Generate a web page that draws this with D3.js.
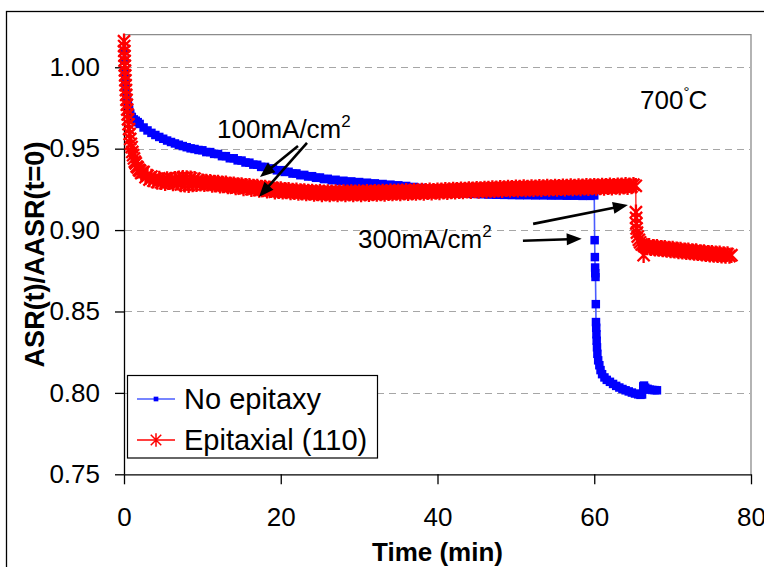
<!DOCTYPE html>
<html>
<head>
<meta charset="utf-8">
<script src="https://cdn.jsdelivr.net/npm/d3@7"></script>
<style>
  html, body { margin: 0; padding: 0; background: #fff; }
  svg { display: block; font-family: "Liberation Sans", Arial, sans-serif; }
</style>
</head>
<body>
<svg id="chart" width="764" height="567"></svg>
<script>
// Normalised area-specific resistance vs. time at 700 °C, [time (min), ASR(t)/ASR(t=0)]
const noEpitaxy = [
  [0,1.010],[0.05,1.004],[0.1,0.998],[0.15,0.993],[0.2,0.989],[0.3,0.984],[0.4,0.980],[0.5,0.977],
  [0.65,0.974],[0.8,0.9715],[1.0,0.9695],[1.25,0.9680],[1.5,0.9672],[1.75,0.9663],[2.0,0.9652],
  [2.5,0.9630],[3.0,0.9612],[3.5,0.9597],[4.0,0.9584],[4.5,0.9572],[5,0.9561],[5.5,0.9550],
  [6,0.9541],[6.5,0.9532],[7,0.9524],[7.5,0.9516],[8,0.9509],[8.5,0.9502],[9,0.9498],[9.5,0.9492],
  [10,0.9490],[10.5,0.9479],[11,0.9479],[11.5,0.9468],[12,0.9467],[12.5,0.9454],[13,0.9454],
  [13.5,0.9441],[14,0.9441],[14.5,0.9428],[15,0.9427],[15.5,0.9415],[16,0.9414],[16.5,0.9402],
  [17,0.9401],[17.5,0.9388],[18,0.9388],[18.5,0.9377],[19,0.9378],[19.5,0.9367],[20,0.9368],
  [20.5,0.9357],[21,0.9358],[21.5,0.9347],[22,0.9348],[22.5,0.9337],[23,0.9339],[23.5,0.9329],
  [24,0.9331],[24.5,0.9321],[25,0.9323],[25.5,0.9313],[26,0.9315],[26.5,0.9306],[27,0.9309],
  [27.5,0.9300],[28,0.9303],[28.5,0.9295],[29,0.9299],[29.5,0.9291],[30,0.9295],[30.5,0.9287],
  [31,0.9291],[31.5,0.9283],[32,0.9287],[32.5,0.9279],[33,0.9283],[33.5,0.9275],[34,0.9279],
  [34.5,0.9271],[35,0.9275],[35.5,0.9267],[36,0.9271],[36.5,0.9262],[37,0.9265],[37.5,0.9256],
  [38,0.9259],[38.5,0.9250],[39,0.9253],[39.5,0.9244],[40,0.9247],[40.5,0.9238],[41,0.9241],
  [41.5,0.9233],[42,0.9236],[42.5,0.9229],[43,0.9232],[43.5,0.9225],[44,0.9228],[44.5,0.9222],
  [45,0.9226],[45.5,0.9220],[46,0.9224],[46.5,0.9218],[47,0.9222],[47.5,0.9217],[48,0.9221],
  [48.5,0.9216],[49,0.9220],[49.5,0.9215],[50,0.9219],[50.5,0.9214],[51,0.9218],[51.5,0.9214],
  [52,0.9218],[52.5,0.9213],[53,0.9217],[53.5,0.9213],[54,0.9217],[54.5,0.9212],[55,0.9216],
  [55.5,0.9212],[56,0.9216],[56.5,0.9211],[57,0.9215],[57.5,0.9211],[58,0.9215],[58.5,0.9210],
  [59,0.9214],[59.5,0.9210],[60,0.9213],
  // current step to 300 mA/cm²
  [60.05,0.8938],[60.08,0.8834],[60.11,0.8770],[60.13,0.8735],[60.16,0.8712],[60.2,0.8545],
  [60.22,0.8435],[60.25,0.8400],[60.28,0.8360],[60.31,0.8320],[60.35,0.8280],[60.4,0.8240],
  [60.5,0.8200],[60.65,0.8170],[60.8,0.8140],[61.0,0.8115],[61.3,0.8095],[61.6,0.8080],
  [62.0,0.8068],[62.4,0.8055],[62.8,0.8043],[63.2,0.8033],[63.6,0.8024],[64.0,0.8016],
  [64.4,0.8009],[64.8,0.8002],[65.2,0.7996],[65.6,0.7991],[65.9,0.7988],[66.1,0.7990],
  [66.25,0.8040],[66.35,0.8045],[66.5,0.8032],[66.8,0.8025],[67.1,0.8020],[67.4,0.8018],
  [67.7,0.8017],[68.0,0.8016]
];

const epitaxial110 = [
  [0,1.016],[0.02,1.013],[0.04,1.010],[0.06,1.007],[0.08,1.004],[0.1,1.001],[0.12,0.998],
  [0.15,0.995],[0.18,0.992],[0.21,0.989],[0.25,0.986],[0.28,0.983],[0.32,0.980],[0.36,0.977],
  [0.41,0.974],[0.46,0.971],[0.52,0.968],[0.58,0.965],[0.65,0.962],[0.72,0.959],[0.8,0.956],
  [0.88,0.953],[0.97,0.951],[1.06,0.948],[1.16,0.946],[1.27,0.944],[1.38,0.942],[1.5,0.941],
  [1.62,0.939],[1.75,0.9385],[1.9,0.937],[2.05,0.9365],[2.2,0.9350],[2.35,0.9355],
  [2.5,0.9357],[2.75,0.9325],[3,0.9334],[3.25,0.9310],[3.5,0.9329],[3.75,0.9303],[4,0.9316],
  [4.25,0.9295],[4.5,0.9317],[4.75,0.9293],[5,0.9308],[5.25,0.9288],[5.5,0.9314],[5.75,0.9294],
  [6,0.9310],[6.25,0.9286],[6.5,0.9315],[6.75,0.9290],[7,0.9318],[7.25,0.9280],[7.5,0.9322],
  [7.75,0.9278],[8,0.9320],[8.25,0.9276],[8.5,0.9318],[8.75,0.9280],[9,0.9316],[9.25,0.9282],
  [9.5,0.9306],[9.75,0.9285],[10,0.9300],[10.25,0.9282],[10.5,0.9298],[10.75,0.9284],
  [11,0.9297],[11.25,0.9277],[11.5,0.9292],[11.75,0.9279],[12,0.9292],[12.25,0.9272],
  [12.5,0.9287],[12.75,0.9274],[13,0.9287],[13.25,0.9267],[13.5,0.9282],[13.75,0.9269],
  [14,0.9282],[14.25,0.9261],[14.5,0.9277],[14.75,0.9264],[15,0.9277],[15.25,0.9256],
  [15.5,0.9272],[15.75,0.9259],[16,0.9272],[16.25,0.9251],[16.5,0.9267],[16.75,0.9254],
  [17,0.9267],[17.25,0.9246],[17.5,0.9262],[17.75,0.9249],[18,0.9262],[18.25,0.9241],
  [18.5,0.9257],[18.75,0.9244],[19,0.9257],[19.25,0.9236],[19.5,0.9252],[19.75,0.9239],
  [20,0.9253],[20.25,0.9235],[20.5,0.9247],[20.75,0.9237],[21,0.9247],[21.25,0.9231],
  [21.5,0.9243],[21.75,0.9233],[22,0.9244],[22.25,0.9228],[22.5,0.9240],[22.75,0.9230],
  [23,0.9240],[23.25,0.9224],[23.5,0.9237],[23.75,0.9227],[24,0.9237],[24.25,0.9222],
  [24.5,0.9234],[24.75,0.9225],[25,0.9235],[25.25,0.9219],[25.5,0.9232],[25.75,0.9223],
  [26,0.9234],[26.25,0.9219],[26.5,0.9232],[26.75,0.9223],[27,0.9234],[27.25,0.9219],
  [27.5,0.9232],[27.75,0.9223],[28,0.9234],[28.25,0.9219],[28.5,0.9232],[28.75,0.9223],
  [29,0.9234],[29.25,0.9219],[29.5,0.9232],[29.75,0.9223],[30,0.9234],[30.25,0.9219],
  [30.5,0.9232],[30.75,0.9223],[31,0.9235],[31.25,0.9220],[31.5,0.9233],[31.75,0.9224],
  [32,0.9236],[32.25,0.9221],[32.5,0.9234],[32.75,0.9225],[33,0.9237],[33.25,0.9222],
  [33.5,0.9235],[33.75,0.9226],[34,0.9238],[34.25,0.9224],[34.5,0.9237],[34.75,0.9228],
  [35,0.9239],[35.25,0.9225],[35.5,0.9238],[35.75,0.9229],[36,0.9241],[36.25,0.9226],
  [36.5,0.9239],[36.75,0.9230],[37,0.9242],[37.25,0.9227],[37.5,0.9240],[37.75,0.9231],
  [38,0.9243],[38.25,0.9228],[38.5,0.9241],[38.75,0.9233],[39,0.9244],[39.25,0.9229],
  [39.5,0.9242],[39.75,0.9234],[40,0.9245],[40.25,0.9231],[40.5,0.9244],[40.75,0.9235],
  [41,0.9247],[41.25,0.9233],[41.5,0.9246],[41.75,0.9237],[42,0.9249],[42.25,0.9235],
  [42.5,0.9248],[42.75,0.9239],[43,0.9251],[43.25,0.9237],[43.5,0.9250],[43.75,0.9241],
  [44,0.9252],[44.25,0.9238],[44.5,0.9251],[44.75,0.9243],[45,0.9254],[45.25,0.9240],
  [45.5,0.9253],[45.75,0.9245],[46,0.9256],[46.25,0.9242],[46.5,0.9255],[46.75,0.9246],
  [47,0.9258],[47.25,0.9244],[47.5,0.9257],[47.75,0.9248],[48,0.9260],[48.25,0.9245],
  [48.5,0.9258],[48.75,0.9250],[49,0.9261],[49.25,0.9247],[49.5,0.9260],[49.75,0.9251],
  [50,0.9263],[50.25,0.9248],[50.5,0.9261],[50.75,0.9252],[51,0.9264],[51.25,0.9249],
  [51.5,0.9262],[51.75,0.9253],[52,0.9265],[52.25,0.9250],[52.5,0.9263],[52.75,0.9254],
  [53,0.9266],[53.25,0.9251],[53.5,0.9264],[53.75,0.9255],[54,0.9267],[54.25,0.9252],
  [54.5,0.9265],[54.75,0.9256],[55,0.9268],[55.25,0.9253],[55.5,0.9266],[55.75,0.9257],
  [56,0.9269],[56.25,0.9254],[56.5,0.9267],[56.75,0.9258],[57,0.9270],[57.25,0.9255],
  [57.5,0.9268],[57.75,0.9259],[58,0.9271],[58.25,0.9256],[58.5,0.9269],[58.75,0.9260],
  [59,0.9272],[59.25,0.9257],[59.5,0.9270],[59.75,0.9261],[60,0.9273],[60.25,0.9258],
  [60.5,0.9271],[60.75,0.9262],[61,0.9274],[61.25,0.9259],[61.5,0.9272],[61.75,0.9263],
  [62,0.9275],[62.25,0.9260],[62.5,0.9273],[62.75,0.9264],[63,0.9276],[63.25,0.9262],
  [63.5,0.9275],[63.75,0.9266],[64,0.9278],[64.25,0.9263],[64.5,0.9276],[64.75,0.9267],
  [65,0.9279],[65.3,0.9272],
  // current step to 300 mA/cm²
  [65.32,0.9110],[65.34,0.9075],[65.37,0.9040],[65.4,0.9010],[65.45,0.8985],[65.55,0.8960],
  [65.7,0.8940],[65.85,0.8925],[66.05,0.8912],[66.3,0.8846],[66.35,0.8903],[66.55,0.8898],
  [66.75,0.8893],[67,0.8903],[67.25,0.8888],[67.5,0.8897],[67.75,0.8885],[68,0.8897],
  [68.25,0.8883],[68.5,0.8892],[68.75,0.8880],[69,0.8892],[69.25,0.8878],[69.5,0.8887],
  [69.75,0.8875],[70,0.8887],[70.25,0.8873],[70.5,0.8882],[70.75,0.8869],[71,0.8881],
  [71.25,0.8867],[71.5,0.8876],[71.75,0.8864],[72,0.8876],[72.25,0.8862],[72.5,0.8871],
  [72.75,0.8859],[73,0.8871],[73.25,0.8857],[73.5,0.8866],[73.75,0.8854],[74,0.8866],
  [74.25,0.8852],[74.5,0.8861],[74.75,0.8849],[75,0.8861],[75.25,0.8847],[75.5,0.8857],
  [75.75,0.8845],[76,0.8857],[76.25,0.8843],[76.5,0.8853],[76.75,0.8841],[77,0.8853],
  [77.25,0.8840],[77.5,0.8846]
];

const xTicks = [0, 20, 40, 60, 80];
const yTicks = [0.75, 0.80, 0.85, 0.90, 0.95, 1.00];
const seriesNames = ["No epitaxy", "Epitaxial (110)"];

// annotation anchors in data units: [time, ratio]
const label100 = [11.87, 0.9566];
const label300 = [29.86, 0.8890];
const label700 = [65.84, 0.9744];
const arrows = [
  [[22.2, 0.9517], [17.35, 0.9326]],
  [[23.35, 0.9535], [17.22, 0.9203]],
  [[52.2, 0.9038], [64.3, 0.9154]],
  [[50.9, 0.8934], [58.4, 0.8946]]
];

const svg = d3.select("#chart");
const plot = { left: 124, right: 751, top: 34.7, bottom: 474.3 };

const x = d3.scaleLinear().domain([0, 80]).range([plot.left, plot.right]);
const y = d3.scaleLinear().domain([0.75, 1.02]).range([plot.bottom, plot.top]);

// outer frame (runs off the right and bottom edges)
svg.append("rect")
  .attr("x", 6.5).attr("y", 11.5).attr("width", 800).attr("height", 600)
  .attr("fill", "#fff").attr("stroke", "#000").attr("stroke-width", 1.3);

// plot area frame: top and right in grey
svg.append("path")
  .attr("d", `M${plot.left},${plot.top}H${plot.right}V${plot.bottom}`)
  .attr("fill", "none").attr("stroke", "#8c8c8c").attr("stroke-width", 1.3);

// dashed gridlines
svg.append("g").selectAll("line")
  .data(yTicks.filter(d => d > 0.75))
  .join("line")
  .attr("x1", plot.left + 1).attr("x2", plot.right - 1)
  .attr("y1", d => Math.round(y(d)) + 0.5).attr("y2", d => Math.round(y(d)) + 0.5)
  .attr("stroke", "#a6a6a6").attr("stroke-width", 1.2)
  .attr("stroke-dasharray", "7,5");

// axes
const yAxis = d3.axisLeft(y).tickValues(yTicks).tickFormat(d3.format(".2f"))
  .tickSize(9).tickSizeOuter(0).tickPadding(15);
const gy = svg.append("g").attr("transform", `translate(${plot.left},0)`).call(yAxis);
gy.select(".domain").attr("stroke", "#000").attr("stroke-width", 1.3);
gy.selectAll(".tick line").attr("stroke", "#000").attr("stroke-width", 1.3);
gy.selectAll(".tick text").attr("font-size", 26).attr("fill", "#000")
  .attr("font-family", "'Liberation Sans', Arial, sans-serif");

const xAxis = d3.axisBottom(x).tickValues(xTicks).tickFormat(d3.format("d"))
  .tickSize(10).tickSizeOuter(0).tickPadding(23);
const gx = svg.append("g").attr("transform", `translate(0,${plot.bottom})`).call(xAxis);
gx.select(".domain").attr("stroke", "#000").attr("stroke-width", 1.3);
gx.selectAll(".tick line").attr("stroke", "#000").attr("stroke-width", 1.3);
gx.selectAll(".tick text").attr("font-size", 26).attr("fill", "#000")
  .attr("font-family", "'Liberation Sans', Arial, sans-serif");

// axis titles
svg.append("text")
  .attr("x", (plot.left + plot.right) / 2).attr("y", 561)
  .attr("text-anchor", "middle").attr("font-size", 26).attr("font-weight", "bold")
  .text("Time (min)");
svg.append("text")
  .attr("transform", `translate(44,${(plot.top + plot.bottom) / 2}) rotate(-90)`)
  .attr("text-anchor", "middle").attr("font-size", 27).attr("font-weight", "bold")
  .text("ASR(t)/AASR(t=0)");

// Excel-style star marker: vertical bar plus a cross
const starSymbol = {
  draw(ctx, size) {
    const r = Math.sqrt(size) / 2;
    const a = r * 0.78;
    ctx.moveTo(0, -r); ctx.lineTo(0, r);
    ctx.moveTo(-a, -a); ctx.lineTo(a, a);
    ctx.moveTo(-a, a); ctx.lineTo(a, -a);
  }
};

const line = d3.line().x(d => x(d[0])).y(d => y(d[1]));
const plotG = svg.append("g");

// No epitaxy series
plotG.append("path").datum(noEpitaxy)
  .attr("d", line).attr("fill", "none")
  .attr("stroke", "#4a5cff").attr("stroke-width", 1.6);
plotG.append("g").selectAll("path")
  .data(noEpitaxy).join("path")
  .attr("transform", d => `translate(${x(d[0])},${y(d[1])})`)
  .attr("d", d3.symbol(d3.symbolSquare, 72))
  .attr("fill", "#0000ff");

// Epitaxial (110) series
plotG.append("path").datum(epitaxial110)
  .attr("d", line).attr("fill", "none")
  .attr("stroke", "#ff0000").attr("stroke-width", 1.2);
plotG.append("g").selectAll("path")
  .data(epitaxial110).join("path")
  .attr("transform", d => `translate(${x(d[0])},${y(d[1])})`)
  .attr("d", d3.symbol(starSymbol, 240))
  .attr("fill", "none").attr("stroke", "#ff0000").attr("stroke-width", 2.3);

// annotation arrows
const arrowG = svg.append("g");
arrows.forEach(([from, to]) => {
  const x1 = x(from[0]), y1 = y(from[1]), x2 = x(to[0]), y2 = y(to[1]);
  const len = Math.hypot(x2 - x1, y2 - y1);
  const ux = (x2 - x1) / len, uy = (y2 - y1) / len;
  const hl = 15, hw = 6;
  const bx = x2 - ux * hl, by = y2 - uy * hl;
  arrowG.append("line")
    .attr("x1", x1).attr("y1", y1).attr("x2", bx + ux * 2).attr("y2", by + uy * 2)
    .attr("stroke", "#000").attr("stroke-width", 2.6);
  arrowG.append("path")
    .attr("d", `M${x2},${y2}L${bx - uy * hw},${by + ux * hw}L${bx + uy * hw},${by - ux * hw}Z`)
    .attr("fill", "#000");
});

// annotation labels
function currentLabel(pos, value) {
  const t = svg.append("text")
    .attr("x", x(pos[0])).attr("y", y(pos[1]))
    .attr("font-size", 26).attr("fill", "#000");
  t.append("tspan").text(value + "mA/cm");
  t.append("tspan").attr("font-size", 17).attr("dy", -11).text("2");
}
currentLabel(label100, 100);
currentLabel(label300, 300);

const temp = svg.append("text")
  .attr("x", x(label700[0])).attr("y", y(label700[1]))
  .attr("font-size", 26).attr("fill", "#000");
temp.append("tspan").text("700");
temp.append("tspan").attr("font-size", 15).attr("dy", -12).text("°");
temp.append("tspan").attr("dy", 12).attr("dx", -1).text("C");

// legend
const lg = svg.append("g");
lg.append("rect")
  .attr("x", 127.5).attr("y", 375.5).attr("width", 250).attr("height", 82.5)
  .attr("fill", "#fff").attr("stroke", "#000").attr("stroke-width", 1.2);
const legendRows = [
  { name: seriesNames[0], y: 399, color: "#4a5cff", base: 409 },
  { name: seriesNames[1], y: 440, color: "#ff0000", base: 450 }
];
legendRows.forEach((r, i) => {
  lg.append("line").attr("x1", 137).attr("x2", 175).attr("y1", r.y).attr("y2", r.y)
    .attr("stroke", r.color).attr("stroke-width", 1.6);
  if (i === 0) {
    lg.append("path").attr("transform", `translate(156,${r.y})`)
      .attr("d", d3.symbol(d3.symbolSquare, 22)).attr("fill", "#0000ff");
  } else {
    lg.append("path").attr("transform", `translate(156,${r.y})`)
      .attr("d", d3.symbol(starSymbol, 180))
      .attr("fill", "none").attr("stroke", "#ff0000").attr("stroke-width", 1.5);
  }
  lg.append("text").attr("x", 184).attr("y", r.base)
    .attr("font-size", 29).attr("fill", "#000").text(r.name);
});
</script>
</body>
</html>
